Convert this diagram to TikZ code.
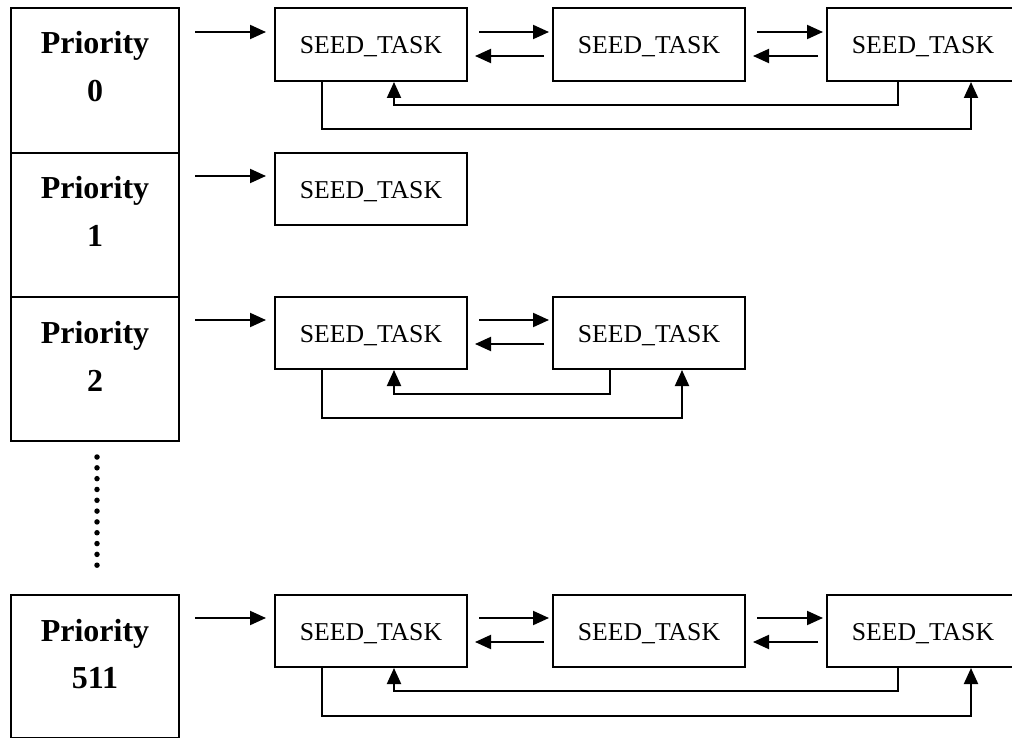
\documentclass[tikz,border=0pt]{standalone}
\usepackage{fontspec}
\setmainfont{Liberation Serif}
\usetikzlibrary{arrows.meta}

\tikzset{
  prio/.style={draw, line width=2pt, inner sep=0pt, minimum width=168pt, anchor=north west},
  priotext/.style={font=\fontsize{32}{38}\selectfont\bfseries, inner sep=0pt, anchor=base},
  task/.style={draw, line width=2pt, inner sep=0pt, minimum width=192pt, minimum height=73pt,
    anchor=north west, text height=19pt, text depth=0pt, font=\fontsize{25.7}{30}\selectfont},
  arr/.style={line width=2pt, -{Triangle[length=16pt,width=14pt]}},
  dots/.style={line width=5.5pt, line cap=round, dash pattern=on 0pt off 10.82pt}
}

\begin{document}
\begin{tikzpicture}[x=1pt, y=-1pt]
\useasboundingbox (0,0) rectangle (1012,738);
\clip (0,0) rectangle (1012,738);

% priority column
\node[prio, minimum height=145pt] (p0) at (10,7) {};
\node[prio, minimum height=144pt] (p1) at (10,152) {};
\node[prio, minimum height=144pt] (p2) at (10,296) {};
\node[prio, minimum height=143pt] (p3) at (10,594) {};

\node[priotext] (p0a) at ([shift={(0,47)}]p0.north) {Priority};
\node[priotext] (p0b) at ([shift={(0,95)}]p0.north) {0};
\node[priotext] (p1a) at ([shift={(0,47)}]p1.north) {Priority};
\node[priotext] (p1b) at ([shift={(0,95)}]p1.north) {1};
\node[priotext] (p2a) at ([shift={(0,47)}]p2.north) {Priority};
\node[priotext] (p2b) at ([shift={(0,95)}]p2.north) {2};
\node[priotext] (p3a) at ([shift={(0,47)}]p3.north) {Priority};
\node[priotext] (p3b) at ([shift={(0,94)}]p3.north) {511};

% vertical ellipsis between priority 2 and 511
\draw[dots] ([shift={(2,15)}]p2.south) -- ([shift={(2,-20)}]p3.north);

% task lists
\node[task] (t01) at (274,7) {SEED\_TASK};
\node[task] (t02) at (552,7) {SEED\_TASK};
\node[task] (t03) at (826,7) {SEED\_TASK};

\node[task, minimum height=72pt] (t11) at (274,152) {SEED\_TASK};

\node[task, minimum height=72pt] (t21) at (274,296) {SEED\_TASK};
\node[task, minimum height=72pt] (t22) at (552,296) {SEED\_TASK};

\node[task, minimum height=72pt] (t31) at (274,594) {SEED\_TASK};
\node[task, minimum height=72pt] (t32) at (552,594) {SEED\_TASK};
\node[task, minimum height=72pt] (t33) at (826,594) {SEED\_TASK};

% head pointers
\draw[arr] ([shift={(15,25)}]p0.north east) -- ([shift={(-8,25)}]t01.north west);
\draw[arr] ([shift={(15,24)}]p1.north east) -- ([shift={(-8,24)}]t11.north west);
\draw[arr] ([shift={(15,24)}]p2.north east) -- ([shift={(-8,24)}]t21.north west);
\draw[arr] ([shift={(15,24)}]p3.north east) -- ([shift={(-8,24)}]t31.north west);

% next / prev links, row 0
\draw[arr] ([shift={(11,25)}]t01.north east) -- ([shift={(-3,25)}]t02.north west);
\draw[arr] ([shift={(-8,49)}]t02.north west) -- ([shift={(7,49)}]t01.north east);
\draw[arr] ([shift={(11,25)}]t02.north east) -- ([shift={(-3,25)}]t03.north west);
\draw[arr] ([shift={(-8,49)}]t03.north west) -- ([shift={(7,49)}]t02.north east);
\draw[arr] ([shift={(72,0)}]t03.south west) -- ++(0,23) -| ([shift={(120,0)}]t01.south west);
\draw[arr] ([shift={(48,0)}]t01.south west) -- ++(0,47) -| ([shift={(145,0)}]t03.south west);

% row 2
\draw[arr] ([shift={(11,24)}]t21.north east) -- ([shift={(-3,24)}]t22.north west);
\draw[arr] ([shift={(-8,48)}]t22.north west) -- ([shift={(7,48)}]t21.north east);
\draw[arr] ([shift={(58,0)}]t22.south west) -- ++(0,24) -| ([shift={(120,0)}]t21.south west);
\draw[arr] ([shift={(48,0)}]t21.south west) -- ++(0,48) -| ([shift={(130,0)}]t22.south west);

% row 511
\draw[arr] ([shift={(11,24)}]t31.north east) -- ([shift={(-3,24)}]t32.north west);
\draw[arr] ([shift={(-8,48)}]t32.north west) -- ([shift={(7,48)}]t31.north east);
\draw[arr] ([shift={(11,24)}]t32.north east) -- ([shift={(-3,24)}]t33.north west);
\draw[arr] ([shift={(-8,48)}]t33.north west) -- ([shift={(7,48)}]t32.north east);
\draw[arr] ([shift={(72,0)}]t33.south west) -- ++(0,23) -| ([shift={(120,0)}]t31.south west);
\draw[arr] ([shift={(48,0)}]t31.south west) -- ++(0,48) -| ([shift={(145,0)}]t33.south west);
\end{tikzpicture}
\end{document}
